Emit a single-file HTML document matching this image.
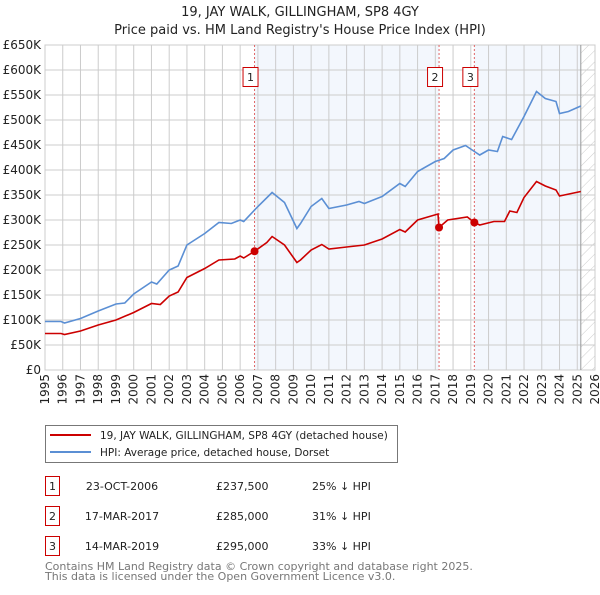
<!DOCTYPE html>
<html><head><meta charset="utf-8"><style>
body{margin:0;background:#fff;font-family:"Liberation Sans","DejaVu Sans",sans-serif}
svg text{font-family:"DejaVu Sans","Liberation Sans",sans-serif}
</style></head><body>
<svg id="c" width="600" height="590" viewBox="0 0 600 590" xmlns="http://www.w3.org/2000/svg">
<defs><pattern id="hatch" width="8" height="8" patternUnits="userSpaceOnUse" patternTransform="rotate(45)"><line x1="0" y1="0" x2="0" y2="8" stroke="#ccc" stroke-width="1"/></pattern></defs>
<text x="300" y="16" text-anchor="middle" font-size="13" fill="#222">19, JAY WALK, GILLINGHAM, SP8 4GY</text>
<text x="300" y="34" text-anchor="middle" font-size="13" fill="#222">Price paid vs. HM Land Registry's House Price Index (HPI)</text>
<g id="plot"></g>
<g>
<rect x="45.5" y="425.5" width="352" height="37" fill="#fff" stroke="#777"/>
<line x1="50" y1="435" x2="91" y2="435" stroke="#cc0000" stroke-width="2"/>
<text x="100" y="439" font-size="10.5" fill="#222">19, JAY WALK, GILLINGHAM, SP8 4GY (detached house)</text>
<line x1="50" y1="452" x2="91" y2="452" stroke="#5b8fd4" stroke-width="2"/>
<text x="100" y="456" font-size="10.5" fill="#222">HPI: Average price, detached house, Dorset</text>
</g>
<g font-size="11" fill="#222">
<rect x="45.5" y="476.5" width="14" height="19" fill="#fff" stroke="#cc0000"/><text x="52.5" y="490" text-anchor="middle">1</text>
<text x="122" y="490" text-anchor="middle">23-OCT-2006</text><text x="216" y="490">£237,500</text><text x="312" y="490">25% ↓ HPI</text>
<rect x="45.5" y="506.5" width="14" height="19" fill="#fff" stroke="#cc0000"/><text x="52.5" y="520" text-anchor="middle">2</text>
<text x="122" y="520" text-anchor="middle">17-MAR-2017</text><text x="216" y="520">£285,000</text><text x="312" y="520">31% ↓ HPI</text>
<rect x="45.5" y="536.5" width="14" height="19" fill="#fff" stroke="#cc0000"/><text x="52.5" y="550" text-anchor="middle">3</text>
<text x="122" y="550" text-anchor="middle">14-MAR-2019</text><text x="216" y="550">£295,000</text><text x="312" y="550">33% ↓ HPI</text>
</g>
<text x="45" y="570" font-size="11" fill="#777">Contains HM Land Registry data © Crown copyright and database right 2025.</text>
<text x="45" y="580" font-size="11" fill="#777">This data is licensed under the Open Government Licence v3.0.</text>
</svg>
<script>
const hpiYears=[1995,1995.9,1996.1,1997,1998,1999,1999.5,2000,2001,2001.3,2002,2002.5,2003,2004,2004.8,2005.5,2006,2006.2,2007,2007.8,2008.5,2009.2,2009.4,2010,2010.6,2011,2012,2012.7,2013,2014,2015,2015.3,2016,2017,2017.5,2018,2018.7,2019.2,2019.5,2020,2020.5,2020.8,2021.3,2022,2022.7,2023.2,2023.8,2024,2024.5,2025.2];
const hpiValues=[97,97,94,103,118,132,134,152,176,172,200,208,250,273,295,293,300,297,327,355,335,283,293,327,343,323,330,337,333,347,373,367,397,417,423,440,449,437,430,440,437,467,461,507,557,543,537,513,517,528];
const priceYears=[1995,1995.9,1996.1,1997,1998,1999,2000,2001,2001.5,2002,2002.5,2003,2004,2004.8,2005.7,2006,2006.2,2006.81,2007.5,2007.8,2008.5,2009.2,2009.4,2010,2010.6,2011,2012,2013,2014,2015,2015.3,2016,2017.15,2017.21,2017.7,2018.8,2019.2,2019.5,2020.3,2020.9,2021.2,2021.6,2022,2022.7,2023.2,2023.8,2024,2025.2];
const priceValues=[73,73,71,78,90,100,115,133,131,148,156,185,203,220,222,228,224,237.5,255,267,250,215,220,240,251,242,246,250,262,281,276,300,312,285,300,306,295,290,297,297,318,315,345,377,368,360,348,357];
const saleYears=[2006.81,2017.21,2019.2];
const saleValues=[237.5,285,295];
const saleLabels=["1","2","3"];
const yTicks=[0,50,100,150,200,250,300,350,400,450,500,550,600,650];
const xTicks=[1995,1996,1997,1998,1999,2000,2001,2002,2003,2004,2005,2006,2007,2008,2009,2010,2011,2012,2013,2014,2015,2016,2017,2018,2019,2020,2021,2022,2023,2024,2025,2026];
const X0=45,X1=595,Y0=370,Y1=45;
const xs=y=>X0+(y-1995)/31*(X1-X0);
const ys=v=>Y0-v/650*(Y0-Y1);
const NS="http://www.w3.org/2000/svg";
const g=document.getElementById('plot');
function mk(t,a){const e=document.createElementNS(NS,t);for(const k in a)e.setAttribute(k,a[k]);g.appendChild(e);return e;}
let r;
r=mk('rect',{x:xs(2006.81),y:Y1,width:xs(2017.21)-xs(2006.81),height:Y0-Y1,fill:'#eef3fc',opacity:0.7});


r=mk('rect',{x:xs(2019.2),y:Y1,width:xs(2025.2)-xs(2019.2),height:Y0-Y1,fill:'#eef3fc',opacity:0.7});


r=mk('rect',{x:xs(2025.2),y:Y1,width:X1-xs(2025.2),height:Y0-Y1,fill:'url(#hatch)'});


yTicks.forEach(v=>{
 const l=mk('line',{x1:X0,x2:X1,y1:ys(v),y2:ys(v),stroke:'#ccc','stroke-width':1});
 
 
 const t=mk('text',{x:X0-4,y:ys(v)+4,'text-anchor':'end','font-size':12,fill:'#222'});
 t.textContent=v===0?'£0':'£'+v+'K';
 
 
});
xTicks.forEach(y=>{
 const l=mk('line',{x1:xs(y),x2:xs(y),y1:Y1,y2:Y0,stroke:'#ccc','stroke-width':1});
 
 
 const t=mk('text',{x:0,y:0,'text-anchor':'end','font-size':12,fill:'#222',transform:`translate(${xs(y)+4},374) rotate(-90)`});
 t.textContent=y;
 
 
});
r=mk('rect',{x:X0,y:Y1,width:X1-X0,height:Y0-Y1,fill:'none',stroke:'#ccc'});


r=mk('line',{x1:xs(2025.2),x2:xs(2025.2),y1:Y1,y2:Y0,stroke:'#999','stroke-width':1});


saleYears.forEach((y,i)=>{
 const l=mk('line',{x1:xs(y),x2:xs(y),y1:Y1,y2:Y0,stroke:'#e06666','stroke-dasharray':'2,2','stroke-width':1});
 
 
});
function path(xa,va,col,name){
 const p=mk('path',{d:xa.map((y,i)=>(i?'L':'M')+xs(y).toFixed(1)+','+ys(va[i]).toFixed(1)).join(''),fill:'none',stroke:col,'stroke-width':1.6});
 
 
}
path(hpiYears,hpiValues,'#5b8fd4','hpi-line');
path(priceYears,priceValues,'#cc0000','price-paid-line');
saleYears.forEach((y,i)=>{
 const c=mk('circle',{cx:xs(y),cy:ys(saleValues[i]),r:4,fill:'#cc0000'});
 
 
 const b=mk('rect',{x:xs(y)-11.5,y:67.5,width:15,height:19,fill:'#fff',stroke:'#cc0000'});
 
 
 const t=mk('text',{x:xs(y)-4,y:81,'text-anchor':'middle','font-size':11,fill:'#222'});
 t.textContent=saleLabels[i];
 
 
});
</script>
</body></html>
